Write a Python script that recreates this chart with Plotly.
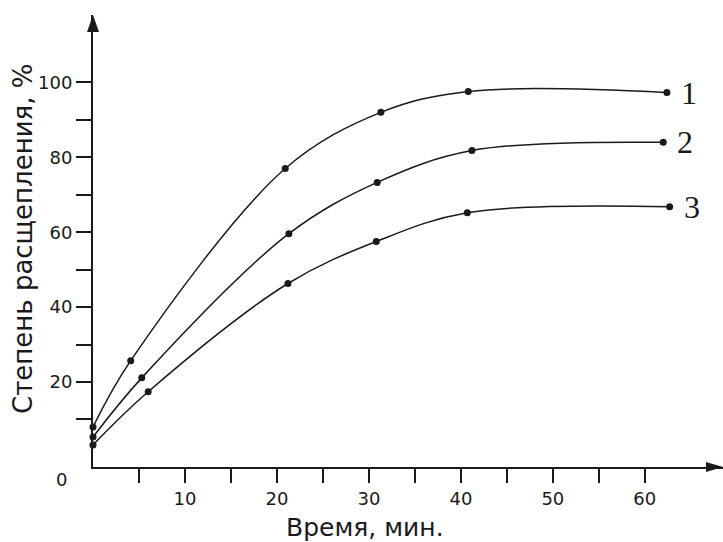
import plotly.graph_objects as go

# Data (time, min; degree of cleavage, %)
t1 = [0, 4.1, 20.9, 31.3, 40.8, 62.4]
y1 = [8.0, 25.7, 77.0, 92.0, 97.6, 97.3]
t2 = [0, 5.3, 21.3, 30.9, 41.2, 62.0]
y2 = [5.3, 21.1, 59.6, 73.3, 81.8, 84.0]
t3 = [0, 6.0, 21.2, 30.8, 40.7, 62.7]
y3 = [3.2, 17.4, 46.3, 57.5, 65.2, 66.8]
curve_labels = ["1", "2", "3"]

x_tickvals = [5, 10, 15, 20, 25, 30, 35, 40, 45, 50, 55, 60]
x_ticktext = ["", "10", "", "20", "", "30", "", "40", "", "50", "", "60"]
y_tickvals = [10, 20, 30, 40, 50, 60, 70, 80, 90, 100]
y_ticktext = ["", "20", "", "40", "", "60", "", "80", "", "100"]

INK = "#1a1a1a"
SANS = "DejaVu Sans"
W, H = 723, 542
L, R, T, B = 93, 0, 15, 75
PW, PH = W - L - R, H - T - B


def px(xpix):
    return (xpix - L) / PW


def py(ypix):
    return (H - B - ypix) / PH


fig = go.Figure()
for t, y in [(t1, y1), (t2, y2), (t3, y3)]:
    fig.add_trace(go.Scatter(
        x=t, y=y, mode="lines+markers",
        line=dict(color=INK, width=1.5, shape="spline", smoothing=1.0),
        marker=dict(color=INK, size=7),
        cliponaxis=False, showlegend=False, hoverinfo="skip"))

# curve number labels
for t, y, lab in [(t1, y1, curve_labels[0]), (t2, y2, curve_labels[1]), (t3, y3, curve_labels[2])]:
    fig.add_annotation(x=t[-1], y=y[-1], xref="x", yref="y", text=lab, showarrow=False,
                       xanchor="left", yanchor="middle", xshift=12,
                       font=dict(family="Liberation Serif", size=32, color=INK))

# arrow heads on axes (pixel-sized)
fig.add_shape(type="path", xref="paper", yref="paper", xsizemode="pixel", ysizemode="pixel",
              xanchor=0, yanchor=1, path="M -6 -17 L 0 0 L 6 -17 Z",
              fillcolor=INK, line=dict(width=0))
fig.add_shape(type="path", xref="paper", yref="paper", xsizemode="pixel", ysizemode="pixel",
              xanchor=1, yanchor=0, path="M -17 -5 L 0 0 L -17 5 Z",
              fillcolor=INK, line=dict(width=0))

# axis titles and origin label
fig.add_annotation(x=px(23), y=py(239), xref="paper", yref="paper",
                   xanchor="center", yanchor="middle",
                   text="Степень расщепления, %", textangle=-90,
                   showarrow=False, font=dict(family=SANS, size=26, color=INK))
fig.add_annotation(x=px(365), y=py(527), xref="paper", yref="paper",
                   xanchor="center", yanchor="middle",
                   text="Время, мин.", showarrow=False,
                   font=dict(family=SANS, size=25, color=INK))
fig.add_annotation(x=px(61), y=py(479), xref="paper", yref="paper",
                   xanchor="center", yanchor="middle",
                   text="0", showarrow=False,
                   font=dict(family=SANS, size=18, color=INK))

fig.update_layout(
    width=W, height=H,
    margin=dict(l=L, r=R, t=T, b=B),
    paper_bgcolor="white", plot_bgcolor="white",
    xaxis=dict(range=[0, 68.5], showgrid=False, zeroline=False,
               showline=True, linecolor=INK, linewidth=2,
               ticks="outside", ticklen=14, tickwidth=2, tickcolor=INK,
               tickvals=x_tickvals, ticktext=x_ticktext,
               tickfont=dict(family=SANS, size=18, color=INK)),
    yaxis=dict(range=[-2.7, 118], showgrid=False, zeroline=False,
               showline=True, linecolor=INK, linewidth=2,
               ticks="outside", ticklen=15, tickwidth=2, tickcolor=INK,
               tickvals=y_tickvals, ticktext=y_ticktext,
               tickfont=dict(family=SANS, size=18, color=INK)),
)
fig.write_html("out.html", config={"displayModeBar": False},
               post_script="document.body.style.margin='0';")
